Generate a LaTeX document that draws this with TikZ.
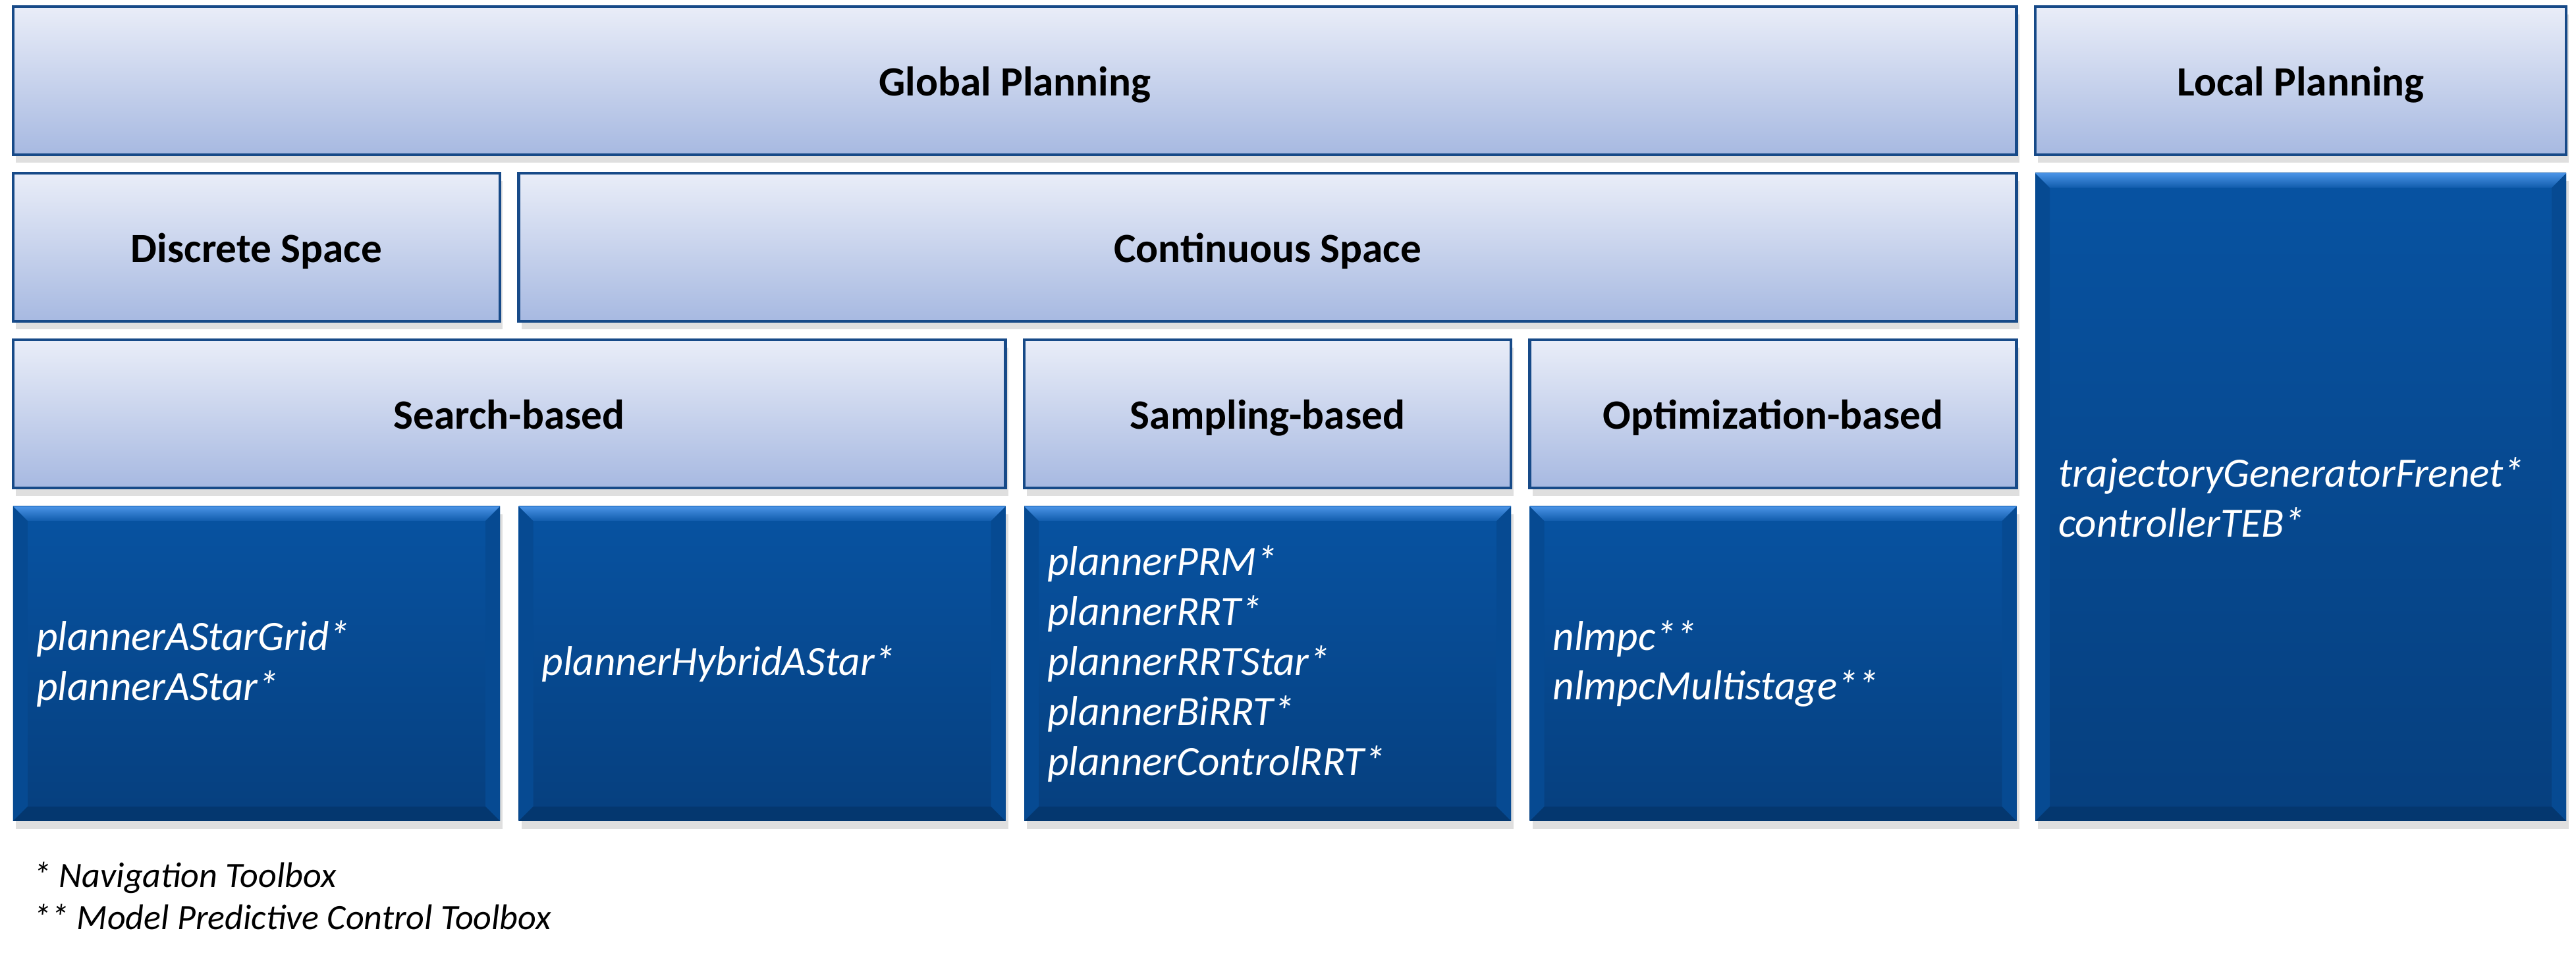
\documentclass[tikz,border=0pt]{standalone}
\usepackage{fontspec}
\setmainfont{Carlito}
\usetikzlibrary{shadows}

\definecolor{boxline}{HTML}{174A88}
\definecolor{lightTop}{HTML}{E9EDF8}
\definecolor{lightBot}{HTML}{A7B9E1}
\definecolor{darkTop}{HTML}{0753A2}
\definecolor{darkBot}{HTML}{063F7E}
\definecolor{bevelHi}{HTML}{4A93E6}
\definecolor{bevelSide}{HTML}{064A92}
\definecolor{bevelLow}{HTML}{04376F}
\newcommand{\bevel}{0.22cm}

\begin{document}
\begin{tikzpicture}[
    shadowed/.style={drop shadow={shadow xshift=0.4mm, shadow yshift=-1.2mm, opacity=0.25}},
    head node/.style={rectangle, draw=boxline, line width=1.2pt, shadowed,
        top color=lightTop, bottom color=lightBot, minimum height=2.25cm,
        text height=17pt, text depth=4pt,
        font=\fontsize{18}{21.6}\selectfont\bfseries},
    tool node/.style={rectangle, shadowed, top color=darkTop, bottom color=darkBot,
        text=white, align=left, inner xsep=0.35cm,
        font=\fontsize{18}{21.6}\selectfont\itshape,
        path picture={
          \coordinate (nw) at (path picture bounding box.north west);
          \coordinate (ne) at (path picture bounding box.north east);
          \coordinate (sw) at (path picture bounding box.south west);
          \coordinate (se) at (path picture bounding box.south east);
          \fill[bevelSide] (nw) -- ([shift={(\bevel,-\bevel)}]nw) -- ([shift={(\bevel,\bevel)}]sw) -- (sw) -- cycle;
          \fill[bevelSide] (ne) -- ([shift={(-\bevel,-\bevel)}]ne) -- ([shift={(-\bevel,\bevel)}]se) -- (se) -- cycle;
          \fill[bevelLow] (sw) -- ([shift={(\bevel,\bevel)}]sw) -- ([shift={(-\bevel,\bevel)}]se) -- (se) -- cycle;
          \shade[top color=bevelHi, bottom color=darkTop!85!bevelHi] (nw) -- (ne) -- ([shift={(-\bevel,-\bevel)}]ne) -- ([shift={(\bevel,-\bevel)}]nw) -- cycle;
        }}]

  \useasboundingbox (0,0) rectangle (39.11,14.70);

  % header rows
  \node[head node, minimum width=30.415cm] (global) at (15.4075,13.475) {Global Planning};
  \node[head node, minimum width=8.06cm] (local) at (34.93,13.475) {Local Planning};

  \node[head node, minimum width=7.39cm] (discrete) at (3.895,10.945) {Discrete Space};
  \node[head node, minimum width=22.74cm] (continuous) at (19.245,10.945) {Continuous Space};

  \node[head node, minimum width=15.065cm] (search) at (7.7325,8.415) {Search-based};
  \node[head node, minimum width=7.39cm] (sampling) at (19.245,8.415) {Sampling-based};
  \node[head node, minimum width=7.39cm] (optim) at (26.92,8.415) {Optimization-based};

  % function boxes
  \node[tool node, minimum width=7.39cm, minimum height=4.78cm, text width=6.69cm] (astar) at (3.895,4.62)
      {plannerAStarGrid*\\plannerAStar*};
  \node[tool node, minimum width=7.39cm, minimum height=4.78cm, text width=6.69cm] (hybrid) at (11.57,4.62)
      {plannerHybridAStar*};
  \node[tool node, minimum width=7.39cm, minimum height=4.78cm, text width=6.69cm] (rrt) at (19.245,4.62)
      {plannerPRM*\\plannerRRT*\\plannerRRTStar*\\plannerBiRRT*\\plannerControlRRT*};
  \node[tool node, minimum width=7.39cm, minimum height=4.78cm, text width=6.69cm] (mpc) at (26.92,4.62)
      {nlmpc**\\nlmpcMultistage**};
  \node[tool node, minimum width=8.06cm, minimum height=9.84cm, text width=7.36cm] (frenet) at (34.93,7.15)
      {trajectoryGeneratorFrenet*\\controllerTEB*};

  % legend
  \node[anchor=west, inner sep=0pt, align=left, font=\fontsize{15.4}{18}\selectfont\itshape] (legend) at (0.50,1.095)
      {* Navigation Toolbox\\** Model Predictive Control Toolbox};

\end{tikzpicture}
\end{document}
